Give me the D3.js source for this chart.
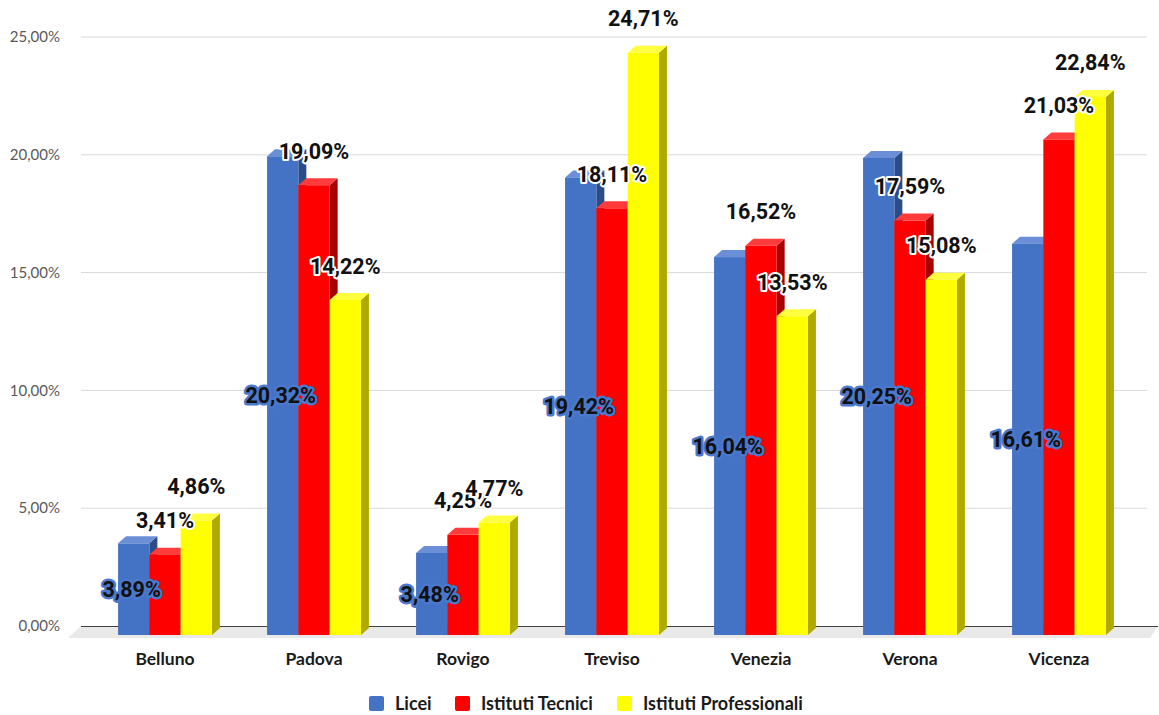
<!DOCTYPE html>
<html><head><meta charset="utf-8">
<script src="https://cdn.jsdelivr.net/npm/d3@7"></script>
<style>body{margin:0;background:#fff;}svg{display:block;}</style>
</head><body>
<svg id="chart" width="1159" height="715"></svg>
<script>
const categories = ["Belluno","Padova","Rovigo","Treviso","Venezia","Verona","Vicenza"];
const seriesNames = ["Licei","Istituti Tecnici","Istituti Professionali"];
const licei = [3.89,20.32,3.48,19.42,16.04,20.25,16.61];
const tecnici = [3.41,19.09,4.25,18.11,16.52,17.59,21.03];
const professionali = [4.86,14.22,4.77,24.71,13.53,15.08,22.84];
const yTicks = [0,5,10,15,20,25];
const colors = {
  "Licei": {front:"#4472C4", top:"#6B8FD6", side:"#2C4C88"},
  "Istituti Tecnici": {front:"#FF0000", top:"#FF3B3B", side:"#A80000"},
  "Istituti Professionali": {front:"#FFFF00", top:"#FFFF40", side:"#B0AA00"}
};
const seriesValues = [licei, tecnici, professionali];

const svg = d3.select("#chart");
const fmt = v => d3.format(".2f")(v).replace(".", ",") + "%";

const dx = 8, dy = -7;
const yBack = d3.scaleLinear().domain([0,25]).range([626,37]);
const yFront = d3.scaleLinear().domain([0,25]).range([635,46]);
const x0 = d3.scaleBand().domain(categories).range([90.5,1133.5]).paddingInner(0.37).paddingOuter(0.185);
const x1 = d3.scaleBand().domain(seriesNames).range([0, x0.bandwidth()]);

// gridlines
const gridL = 81, gridR = 1147;
svg.append("g").selectAll("line").data(yTicks.filter(t=>t>0)).join("line")
  .attr("x1", gridL).attr("x2", gridR)
  .attr("y1", d=>yBack(d)).attr("y2", d=>yBack(d))
  .attr("stroke","#d9d9d9").attr("stroke-width",1);

// y tick labels
svg.append("g").selectAll("text").data(yTicks).join("text")
  .attr("x", 60).attr("y", d=>yBack(d)).attr("dy","0.35em")
  .attr("text-anchor","end")
  .style("font-family","Lato, 'Open Sans', sans-serif").style("font-size","15px")
  .attr("fill","#595959").text(d=>fmt(d));

// floor
const floorPts = [[81,yBack(0)],[1158,yBack(0)],[1150,638],[68,638]];
svg.append("polygon").attr("points", floorPts.map(p=>p.join(",")).join(" "))
  .attr("fill","#e9e9e9");
svg.append("line").attr("x1",81).attr("x2",1158).attr("y1",yBack(0)+0.5).attr("y2",yBack(0)+0.5)
  .attr("stroke","#404040").attr("stroke-width",1.2);

// bars
const bw = x1.bandwidth();
const barsG = svg.append("g");
categories.forEach((c,i)=>{
  seriesNames.forEach((s,j)=>{
    const v = seriesValues[j][i];
    const xl = x0(c) + x1(s), xr = xl + bw;
    const yt = yFront(v), yb = yFront(0);
    const col = colors[s];
    const g = barsG.append("g");
    g.append("polygon").attr("points",
      [[xr,yb],[xr,yt],[xr+dx,yt+dy],[xr+dx,yb+dy]].map(p=>p.join(",")).join(" "))
      .attr("fill", col.side);
    g.append("polygon").attr("points",
      [[xl,yt],[xl+dx,yt+dy],[xr+dx,yt+dy],[xr,yt]].map(p=>p.join(",")).join(" "))
      .attr("fill", col.top);
    g.append("rect").attr("x", xl).attr("y", yt).attr("width", bw).attr("height", yb-yt)
      .attr("fill", col.front);
  });
});

// labels
const labG = svg.append("g").style("font-family","Roboto, sans-serif").style("font-size","21.5px").style("font-weight","bold");
categories.forEach((c,i)=>{
  seriesNames.forEach((s,j)=>{
    const v = seriesValues[j][i];
    const cx = x0(c) + x1(s) + bw/2;
    let y, halo;
    if (j===0) { y = yFront(v/2); halo = "#4A78CC"; }
    else { y = yFront(v) - 34; halo = "#ffffff"; }
    labG.append("text").attr("x", cx - (j===0?2:0)).attr("y", y).attr("dy","0.35em")
      .attr("text-anchor","middle")
      .attr("fill","#111")
      .attr("stroke", halo).attr("stroke-width", j===0?5:4).attr("stroke-linejoin","round")
      .style("paint-order","stroke")
      .text(fmt(v));
  });
});

// category labels
svg.append("g").selectAll("text").data(categories).join("text")
  .attr("x", d=>x0(d)+x0.bandwidth()/2).attr("y", 665)
  .attr("text-anchor","middle")
  .style("font-family","Lato, sans-serif").style("font-size","17.5px").style("font-weight","bold")
  .attr("fill","#1a1a1a").text(d=>d);

// legend
const legItems = [{s:"Licei",x:369},{s:"Istituti Tecnici",x:455},{s:"Istituti Professionali",x:617}];
const leg = svg.append("g");
legItems.forEach(it=>{
  leg.append("rect").attr("x",it.x).attr("y",696).attr("width",15).attr("height",15).attr("rx",2)
    .attr("fill", colors[it.s].front);
  leg.append("text").attr("x", it.x+26).attr("y", 703.5).attr("dy","0.35em")
    .style("font-family","Lato, sans-serif").style("font-size","18px").style("font-weight","bold")
    .attr("fill","#1a1a1a").text(it.s);
});
</script>
</body></html>
